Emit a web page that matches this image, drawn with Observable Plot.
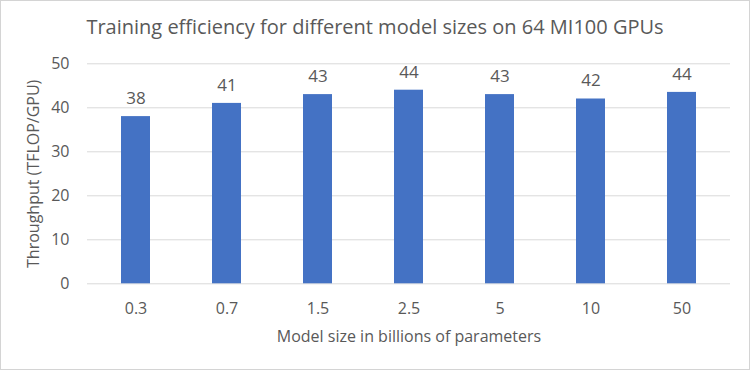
<!DOCTYPE html>
<html>
<head>
<meta charset="utf-8">
<script src="https://cdn.jsdelivr.net/npm/d3@7"></script>
<script src="https://cdn.jsdelivr.net/npm/@observablehq/plot@0.6"></script>
<style>
  html, body { margin: 0; padding: 0; background: #fff; }
  #wrap { position: relative; width: 750px; height: 370px; background: #fff; overflow: hidden; font-family: "Open Sans", sans-serif; }
  #title { height: 50px; box-sizing: border-box; padding-top: 14px; line-height: 26px; font-size: 20px; color: #595959; text-align: center; white-space: nowrap; }
  #border { position: absolute; left: 0; top: 0; width: 750px; height: 370px; box-sizing: border-box; border: 1px solid #d4d4d4; pointer-events: none; }
  svg { display: block; }
</style>
</head>
<body>
<div id="wrap">
  <div id="title">Training efficiency for different model sizes on 64 MI100 GPUs</div>
  <div id="chart"></div>
  <div id="border"></div>
</div>
<script>
const modelSizes = ["0.3", "0.7", "1.5", "2.5", "5", "10", "50"];
const throughput = [38, 41, 43, 44, 43, 42, 43.5];
const valueLabels = ["38", "41", "43", "44", "43", "42", "44"];
const yTicks = [0, 10, 20, 30, 40, 50];
const xLabel = "Model size in billions of parameters";
const yLabel = "Throughput (TFLOP/GPU)";

const data = modelSizes.map((m, i) => ({ size: m, value: throughput[i], label: valueLabels[i] }));

const textColor = "#595959";
const chart = Plot.plot({
  width: 750,
  height: 320,
  marginTop: 13.3,
  marginBottom: 86.7,
  marginLeft: 87,
  marginRight: 20,
  style: { fontFamily: "'Open Sans', sans-serif", color: textColor, background: "transparent", overflow: "visible" },
  x: { type: "band", domain: modelSizes, paddingInner: 0.68, paddingOuter: 0.34, label: null },
  y: { domain: [0, 50], label: null },
  marks: [
    Plot.gridY(yTicks, { stroke: "#d9d9d9", strokeOpacity: 1, strokeWidth: 1 }),
    Plot.barY(data, { x: "size", y: "value", fill: "#4472C4" }),
    Plot.axisY(yTicks, { tickSize: 0, tickPadding: 18, fontSize: 16, fill: textColor, label: null }),
    Plot.axisX({ tickSize: 0, tickPadding: 19, fontSize: 16, fill: textColor, label: null }),
    Plot.text(data, { x: "size", y: "value", text: "label", dy: -18, fontSize: 17, fill: textColor }),
    Plot.text([yLabel], { frameAnchor: "left", textAnchor: "middle", lineAnchor: "middle", dx: -54, rotate: -90, fontSize: 16, fill: textColor }),
    Plot.text([xLabel], { frameAnchor: "bottom", textAnchor: "middle", lineAnchor: "middle", dy: 52.7, fontSize: 16, fill: textColor })
  ]
});
document.getElementById("chart").appendChild(chart);
</script>
</body>
</html>
